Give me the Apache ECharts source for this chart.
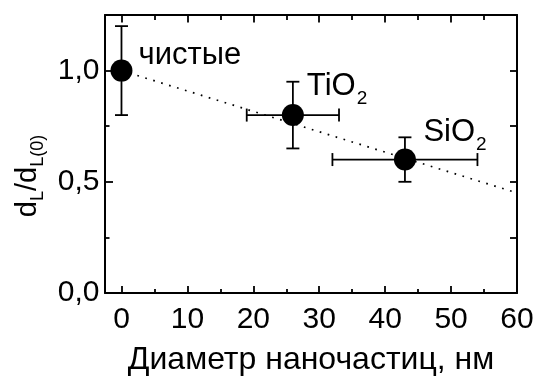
<!DOCTYPE html>
<html>
<head>
<meta charset="utf-8">
<script src="https://cdn.jsdelivr.net/npm/echarts@6/dist/echarts.min.js"></script>
<style>
html,body{margin:0;padding:0;background:#fff;}
#chart{width:538px;height:376px;}
</style>
</head>
<body>
<div id="chart"></div>
<script>
// ---- data ----
const samples = ['чистые', 'TiO2', 'SiO2'];
const diameter = [0, 26, 43];
const ratio = [1.0, 0.8, 0.6];
const diameterLow = [0, 19, 32];
const diameterHigh = [0, 33, 54];
const ratioLow = [0.8, 0.65, 0.5];
const ratioHigh = [1.2, 0.95, 0.7];
const fitX = [0, 60];
const fitY = [1.0, 0.45];
const xMajorTicks = [0, 10, 20, 30, 40, 50, 60];
const xMinorTicks = [5, 15, 25, 35, 45, 55];
const xTickLabels = ['0', '10', '20', '30', '40', '50', '60'];
const yMajorTicks = [0, 0.5, 1.0];
const yMinorTicks = [0.25, 0.75];
const yRightTicks = [0.25, 0.5, 0.75, 1.0];
const yTickLabels = ['0,0', '0,5', '1,0'];
const xTitle = 'Диаметр наночастиц, нм';

// ---- chart ----
const FONT = "'Liberation Sans', Arial, sans-serif";
const X_MIN = -2.5, X_MAX = 60, Y_MIN = 0, Y_MAX = 1.25;

function labelRich(name) {
  const m = name.match(/^(.*?)(\d)$/);
  if (m) return '{m|' + m[1] + '}{s|' + m[2] + '}';
  return name;
}

const labelOffsets = [[0, -15.5], [0, -28.5], [0, -27.5]];
const labelDistances = [6, 3, 7.5];

const points = diameter.map((x, i) => ({
  value: [x, ratio[i]],
  label: {
    show: true,
    position: 'right',
    distance: labelDistances[i],
    offset: labelOffsets[i],
    formatter: labelRich(samples[i])
  }
}));

const errData = diameter.map((x, i) => [x, ratio[i], diameterLow[i], diameterHigh[i], ratioLow[i], ratioHigh[i]]);

function renderErr(params, api) {
  const x = api.value(0), y = api.value(1);
  const xl = api.value(2), xh = api.value(3), yl = api.value(4), yh = api.value(5);
  const ql = api.coord([x, yl]), qh = api.coord([x, yh]);
  const pl = api.coord([xl, y]), ph = api.coord([xh, y]);
  const cap = 6.5;
  const st = {stroke: '#000', lineWidth: 1.8, fill: null};
  const ch = [];
  const line = (x1, y1, x2, y2) => ch.push({type: 'line', shape: {x1, y1, x2, y2}, style: st});
  line(ql[0], ql[1], qh[0], qh[1]);
  line(ql[0] - cap, ql[1], ql[0] + cap, ql[1]);
  line(qh[0] - cap, qh[1], qh[0] + cap, qh[1]);
  if (xh > xl) {
    line(pl[0], pl[1], ph[0], ph[1]);
    line(pl[0], pl[1] - cap, pl[0], pl[1] + cap);
    line(ph[0], ph[1] - cap, ph[0], ph[1] + cap);
  }
  return {type: 'group', children: ch};
}

const axisLineStyle = {color: '#000', width: 2};
const tickStyle = {color: '#000', width: 1.8};

function xAx(pos, ticks, len, showLine, labels) {
  return {
    type: 'value', min: X_MIN, max: X_MAX, position: pos,
    axisLine: {show: showLine, onZero: false, lineStyle: axisLineStyle},
    axisTick: {show: true, inside: true, length: len, customValues: ticks, lineStyle: tickStyle},
    axisLabel: labels ? {
      show: true, customValues: xMajorTicks, margin: 11.5,
      fontSize: 30, color: '#000', fontFamily: FONT,
      formatter: v => xTickLabels[xMajorTicks.indexOf(v)]
    } : {show: false},
    splitLine: {show: false}, minorTick: {show: false}
  };
}
function yAx(pos, ticks, len, showLine, labels) {
  return {
    type: 'value', min: Y_MIN, max: Y_MAX, position: pos,
    axisLine: {show: showLine, onZero: false, lineStyle: axisLineStyle},
    axisTick: {show: true, inside: true, length: len, customValues: ticks, lineStyle: tickStyle},
    axisLabel: labels ? {
      show: true, customValues: yMajorTicks, margin: 5.5,
      fontSize: 30, color: '#000', fontFamily: FONT,
      formatter: v => yTickLabels[yMajorTicks.findIndex(t => Math.abs(t - v) < 1e-9)]
    } : {show: false},
    splitLine: {show: false}, minorTick: {show: false}
  };
}

const xAxes = [
  xAx('bottom', xMajorTicks, 7, true, true),
  xAx('bottom', xMinorTicks, 4, false, false),
  xAx('top', xMajorTicks, 7.5, true, false),
  xAx('top', xMinorTicks, 5, false, false)
];
Object.assign(xAxes[0], {
  name: xTitle, nameLocation: 'middle', nameGap: 51,
  nameTextStyle: {fontSize: 32, color: '#000', fontFamily: FONT}
});
const yAxes = [
  yAx('left', yMajorTicks, 8, true, true),
  yAx('left', yMinorTicks, 4.5, false, false),
  yAx('right', yRightTicks, 7, true, false)
];
Object.assign(yAxes[0], {
  name: '{m|d}{s|L}{m|/d}{s|L(0)}', nameLocation: 'middle', nameRotate: 90, nameGap: 57,
  nameTextStyle: {
    color: '#000', fontFamily: FONT, padding: [0, 44, 0, 0],
    rich: {
      m: {fontSize: 29, lineHeight: 29, verticalAlign: 'top', color: '#000', fontFamily: FONT},
      s: {fontSize: 18, lineHeight: 18, padding: [19, 0, 0, 0], color: '#000', fontFamily: FONT}
    }
  }
});

const option = {
  animation: false,
  backgroundColor: '#fff',
  grid: {left: 105, right: 21, top: 15, bottom: 83, containLabel: false, outerBoundsMode: 'none'},
  xAxis: xAxes,
  yAxis: yAxes,
  series: [
    {
      type: 'line', xAxisIndex: 0, yAxisIndex: 0,
      data: fitX.map((x, i) => [x, fitY[i]]),
      symbol: 'none', silent: true, z: 1,
      lineStyle: {color: '#000', width: 1.7, type: [1.7, 6.6]}
    },
    {
      type: 'custom', xAxisIndex: 0, yAxisIndex: 0,
      data: errData, renderItem: renderErr, z: 2, silent: true
    },
    {
      type: 'scatter', xAxisIndex: 0, yAxisIndex: 0,
      data: points, symbol: 'circle', symbolSize: 22, z: 3,
      itemStyle: {color: '#000', opacity: 1},
      label: {
        color: '#000', fontSize: 31, fontFamily: FONT,
        rich: {
          m: {fontSize: 31, lineHeight: 31, verticalAlign: 'top', color: '#000', fontFamily: FONT},
          s: {fontSize: 19, lineHeight: 19, padding: [25, 0, 0, 1], color: '#000', fontFamily: FONT}
        }
      }
    }
  ]
};

const chart = echarts.init(document.getElementById('chart'), null, {renderer: 'canvas'});
chart.setOption(option);
</script>
</body>
</html>
